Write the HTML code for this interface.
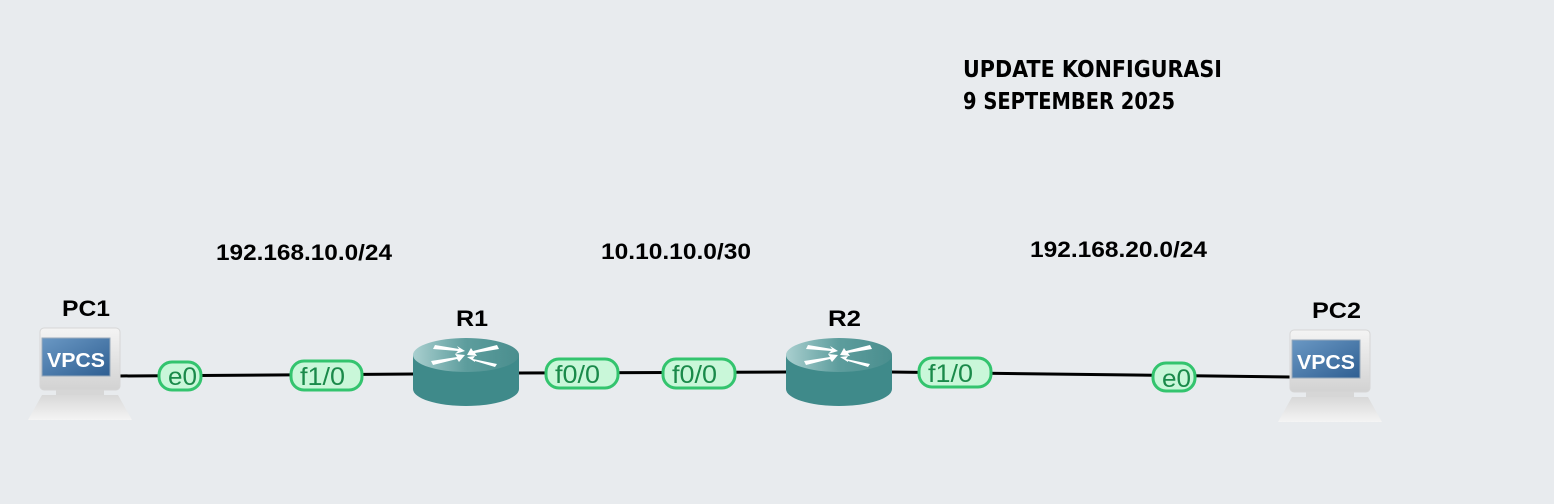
<!DOCTYPE html>
<html><head><meta charset="utf-8"><style>
html,body{margin:0;padding:0;background:#e8ebee;}
svg{display:block;font-family:"Liberation Sans",Arial,sans-serif;}
</style></head><body>
<svg width="1554" height="504" viewBox="0 0 1554 504">
<defs>
<linearGradient id="scr" x1="0" y1="0" x2="1" y2="1"><stop offset="0" stop-color="#6a98c4"/><stop offset="1" stop-color="#2f5f92"/></linearGradient>
<linearGradient id="mon" x1="0" y1="0" x2="0" y2="1"><stop offset="0" stop-color="#f4f4f4"/><stop offset="1" stop-color="#d2d2d2"/></linearGradient>
<linearGradient id="base" x1="0" y1="0" x2="0" y2="1"><stop offset="0" stop-color="#d8d8d8"/><stop offset="1" stop-color="#f4f4f4"/></linearGradient>
<linearGradient id="rtop" x1="0" y1="0" x2="1" y2="0"><stop offset="0" stop-color="#a9cfcf"/><stop offset="0.5" stop-color="#5d9d9d"/><stop offset="1" stop-color="#4a8e8e"/></linearGradient>
<g id="pc">
<rect x="12" y="0" width="80" height="62" rx="4" fill="url(#mon)" stroke="#d6d6d6"/>
<rect x="14" y="10" width="68" height="38" fill="url(#scr)" stroke="#9ab" stroke-width="1"/>
<text x="48" y="39" font-size="20" font-weight="bold" fill="#fff" text-anchor="middle" textLength="58" lengthAdjust="spacingAndGlyphs">VPCS</text>
<rect x="28" y="62" width="48" height="6" fill="#d6d6d6"/>
<path d="M14 67 H90 L104 92 H0 Z" fill="url(#base)"/>
</g>
<g id="rt">
<path d="M0 17 V51 A53 17 0 0 0 106 51 V17 Z" fill="#3f8a8a"/>
<ellipse cx="53" cy="17" rx="53" ry="17" fill="url(#rtop)"/>
<g fill="#fff">
<path d="M22 7 L46 11 L44 8 L52 13 L42 16 L45 13 L20 11 Z"/>
<path d="M84 7 L60 13 L58 10 L54 17 L64 18 L62 15 L86 11 Z"/>
<path d="M20 27 L44 21 L46 24 L52 17 L42 16 L44 19 L18 23 Z"/>
<path d="M84 26 L60 21 L62 18 L54 19 L62 24 L62 23 L82 29 Z"/>
</g>
</g>
</defs>
<g stroke="#000" stroke-width="3" fill="none">
<line x1="118" y1="376" x2="415" y2="374"/>
<line x1="518" y1="373" x2="788" y2="372"/>
<line x1="890" y1="372" x2="1290" y2="377"/>
</g>
<use href="#pc" x="28" y="328"/>
<use href="#pc" x="1278" y="330"/>
<use href="#rt" x="413" y="338"/>
<use href="#rt" x="786" y="338"/>
<g font-size="22" font-weight="bold" fill="#000">
<text x="62" y="316" textLength="48" lengthAdjust="spacingAndGlyphs">PC1</text>
<text x="1312" y="318" textLength="49" lengthAdjust="spacingAndGlyphs">PC2</text>
<text x="456" y="326" textLength="32" lengthAdjust="spacingAndGlyphs">R1</text>
<text x="828" y="326" textLength="33" lengthAdjust="spacingAndGlyphs">R2</text>
<text x="216" y="260" textLength="176" lengthAdjust="spacingAndGlyphs">192.168.10.0/24</text>
<text x="601" y="259" textLength="150" lengthAdjust="spacingAndGlyphs">10.10.10.0/30</text>
<text x="1030" y="257" textLength="177" lengthAdjust="spacingAndGlyphs">192.168.20.0/24</text>
</g>
<g font-size="23" font-weight="bold" fill="#000" font-family="DejaVu Sans, sans-serif">
<text x="963" y="77" textLength="259" lengthAdjust="spacingAndGlyphs">UPDATE KONFIGURASI</text>
<text x="963" y="109" textLength="212" lengthAdjust="spacingAndGlyphs">9 SEPTEMBER 2025</text>
</g>
<g fill="#c9f7d9" stroke="#33c46e" stroke-width="3">
<rect x="159" y="362" width="42" height="28" rx="13"/>
<rect x="291" y="361" width="71" height="29" rx="13"/>
<rect x="546" y="359" width="72" height="29" rx="13"/>
<rect x="663" y="359" width="72" height="29" rx="13"/>
<rect x="919" y="358" width="72" height="29" rx="13"/>
<rect x="1153" y="363" width="42" height="28" rx="13"/>
</g>
<g font-size="25" fill="#1a8a4a">
<text x="168" y="385" textLength="29" lengthAdjust="spacingAndGlyphs">e0</text>
<text x="300" y="385" textLength="45" lengthAdjust="spacingAndGlyphs">f1/0</text>
<text x="555" y="383" textLength="45" lengthAdjust="spacingAndGlyphs">f0/0</text>
<text x="672" y="383" textLength="45" lengthAdjust="spacingAndGlyphs">f0/0</text>
<text x="928" y="382" textLength="45" lengthAdjust="spacingAndGlyphs">f1/0</text>
<text x="1162" y="387" textLength="29" lengthAdjust="spacingAndGlyphs">e0</text>
</g>
</svg>
</body></html>
